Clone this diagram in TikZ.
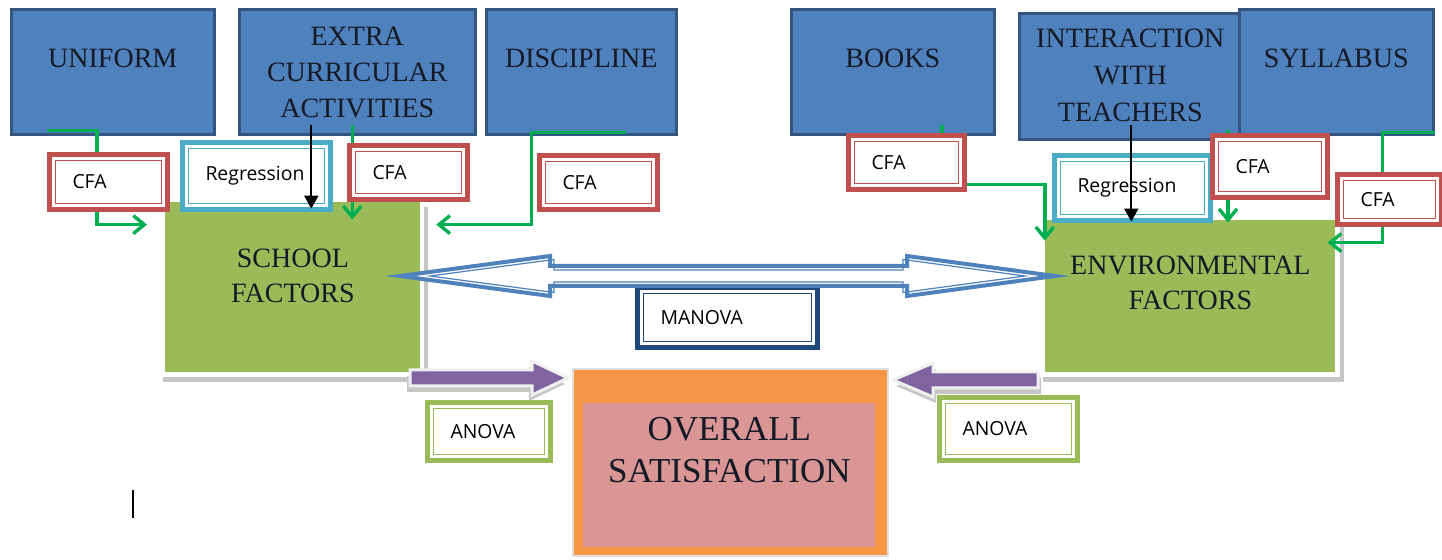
\documentclass[tikz,border=0pt]{standalone}
\usepackage{fontspec}
\setmainfont{Liberation Serif}
\newfontfamily\osans{Open Sans}
\usetikzlibrary{arrows.meta}
\definecolor{boxblue}{HTML}{4F81BD}
\definecolor{boxborder}{HTML}{34557F}
\definecolor{textdark}{HTML}{141A26}
\definecolor{cfared}{HTML}{C0504D}
\definecolor{regblue}{HTML}{4BACC6}
\definecolor{gfill}{HTML}{9BBB59}
\definecolor{glinec}{HTML}{00B050}
\definecolor{manblue}{HTML}{1F497D}
\definecolor{orangef}{HTML}{F79646}
\definecolor{pinkf}{HTML}{D99694}
\definecolor{purplef}{HTML}{8064A2}
\tikzset{
  bluebox/.style={draw=boxborder, fill=boxblue, line width=1.3pt, anchor=north west,
    inner xsep=2pt, inner ysep=0pt, align=center, text=textdark,
    font=\fontsize{14}{18}\selectfont},
  greenbox/.style={fill=gfill, anchor=north west, inner xsep=2pt, inner ysep=0pt,
    align=center, text=textdark, font=\fontsize{14}{17.5}\selectfont},
  lab/.style={draw=#1, fill=white, line width=2.5pt, anchor=north west,
    inner xsep=11.5pt, inner ysep=0pt, align=left,
    font={\osans\fontsize{9.7}{11}\selectfont},
    path picture={\draw[line width=0.5pt, draw=#1]
      ([shift={(2.8pt,-2.8pt)}]path picture bounding box.north west) rectangle
      ([shift={(-2.8pt,2.8pt)}]path picture bounding box.south east);}},
  gline/.style={draw=glinec, line width=1.7pt, line join=miter,
    -{Straight Barb[length=5.5pt,width=9pt,line width=1.7pt]}},
  bline/.style={draw=black, line width=1pt, -{Triangle[length=6.5pt,width=7pt]}},
  parrow/.style={fill=purplef, draw=gray!12, line width=1.5pt, line join=miter},
  pshadow/.style={fill=gray!45},
  darrowout/.style={fill=white, draw=boxblue, line width=2pt, line join=miter},
  darrowin/.style={draw=boxblue, line width=0.6pt, line join=miter},
}
\begin{document}
\begin{tikzpicture}[x=0.5pt,y=-0.5pt]
\useasboundingbox (0,0) rectangle (1442,560);

% green factor boxes with frame and shadow
\fill[gray!45] (163,207) rectangle (428,382);
\fill[white] (157,195) rectangle (424,377);
\node[greenbox, minimum width=127.5pt, text width=123.5pt, text height=32.5pt, text depth=52.5pt]
  (sch) at (165,202) {SCHOOL\\FACTORS};
\fill[gray!45] (1043,225) rectangle (1344,382);
\fill[white] (1038,213) rectangle (1340,377);
\node[greenbox, minimum width=145pt, text width=141pt, text height=27pt, text depth=49pt]
  (env) at (1045,220) {ENVIRONMENTAL\\FACTORS};

% overall satisfaction
\node[fill=orangef, draw=gray!25, line width=0.8pt, anchor=north west, inner sep=0pt,
  minimum width=157.5pt, minimum height=93.5pt] (ovr) at (572,368) {};
\node[fill=pinkf, anchor=north west, inner xsep=2pt, inner ysep=0pt, align=center,
  text width=142pt, text height=18.5pt, text depth=53.5pt, text=textdark,
  font=\fontsize{17.5}{21}\selectfont] (ovi) at (583,403) {OVERALL\\SATISFACTION};

% MANOVA box
\node[lab=manblue, minimum height=30pt, text width=67pt] (man) at (635,285) {MANOVA};

% blue boxes
\node[bluebox, minimum width=101.5pt, text height=29pt, text depth=33.5pt] (uni) at (10,8) {UNIFORM};
\node[bluebox, minimum width=118pt, text width=114pt, text height=18pt, text depth=44.5pt]
  (eca) at (238,8) {EXTRA\\CURRICULAR\\ACTIVITIES};
\node[bluebox, minimum width=95pt, text height=29pt, text depth=33.5pt] (dis) at (485,8) {DISCIPLINE};
\node[bluebox, minimum width=101.5pt, text height=29pt, text depth=33.5pt] (boo) at (790,8) {BOOKS};
\node[bluebox, minimum width=111pt, text width=107pt, text height=17pt, text depth=46pt,
  font=\fontsize{14}{18.5}\selectfont] (iwt) at (1018,12) {INTERACTION\\WITH\\TEACHERS};
\node[bluebox, minimum width=97pt, text height=29pt, text depth=33.5pt] (syl) at (1238,8) {SYLLABUS};

% green connectors
\draw[gline] ([shift={(37,-5)}]uni.south west) -- ++(50,0) -- ++(0,94) -- ++(50,0);
\draw[gline] ([shift={(-5,-11)}]eca.south) -- ++(0,95);
\draw[gline] ([shift={(45,-3)}]dis.south) -- ++(-95,0) -- ++(0,92) -- ++(-95,0);
\draw[gline] ([shift={(49,-11)}]boo.south) -- ++(0,60) -- ++(103,0) -- ++(0,56);
\draw[gline] ([shift={(-10,-6)}]syl.south west) -- ++(0,93);
\draw[gline] ([shift={(0,-3)}]syl.south east) -- ++(-52,0) -- ++(0,110) -- ++(-55,0);

% analysis labels
\node[lab=cfared, minimum height=27.5pt, text width=36pt] (c1) at (47,152) {CFA};
\node[lab=regblue, minimum height=33.5pt, text width=51pt] (r1) at (180,140) {Regression};
\node[lab=cfared, minimum height=27pt, text width=36pt] (c2) at (347,143) {CFA};
\node[lab=cfared, minimum height=27pt, text width=36pt] (c3) at (537,153) {CFA};
\node[lab=cfared, minimum height=27pt, text width=35pt] (c4) at (846,133) {CFA};
\node[lab=regblue, minimum height=32.5pt, text width=55pt] (r2) at (1052,153) {Regression};
\node[lab=cfared, minimum height=31pt, text width=34.5pt] (c5) at (1210,133) {CFA};
\node[lab=cfared, minimum height=25pt, text width=29pt] (c6) at (1335,172) {CFA};

% black regression arrows
\draw[bline] ([shift={(-46,-11)}]eca.south) -- ++(0,84);
\draw[bline] ([shift={(1,-16)}]iwt.south) -- ++(0,97);

% MANOVA double arrow
\coordinate (mL) at (400,276);
\coordinate (mR) at (1055,276);
\draw[darrowout] (mL) -- ++(150,-20) -- ++(0,10) -- ++(357,0) -- ++(0,-10) -- (mR)
  -- ++(-148,20) -- ++(0,-10) -- ++(-357,0) -- ++(0,10) -- cycle;
\draw[darrowin] ([shift={(30,0)}]mL) -- ++(124,-16.5) -- ++(0,10.5) -- ++(349,0) -- ++(0,-10.5)
  -- ([shift={(-30,0)}]mR) -- ++(-122,16.5) -- ++(0,-10.5) -- ++(-349,0) -- ++(0,10.5) -- cycle;

% ANOVA purple arrows
\coordinate (pl) at (568,378);
\coordinate (pr) at (893,380);
\fill[pshadow] ([shift={(-3,6)}]pl) -- ++(-36,-17) -- ++(0,9) -- ++(-122,0) -- ++(0,16)
  -- ++(122,0) -- ++(0,9) -- cycle;
\draw[parrow] (pl) -- ++(-36,-17) -- ++(0,9) -- ++(-122,0) -- ++(0,16)
  -- ++(122,0) -- ++(0,9) -- cycle;
\fill[pshadow] ([shift={(3,6)}]pr) -- ++(40,-17) -- ++(0,9) -- ++(105,0) -- ++(0,16)
  -- ++(-105,0) -- ++(0,9) -- cycle;
\draw[parrow] (pr) -- ++(40,-17) -- ++(0,9) -- ++(105,0) -- ++(0,16)
  -- ++(-105,0) -- ++(0,9) -- cycle;

\node[lab=gfill, minimum height=29pt, text width=38.5pt] (a1) at (425,400) {ANOVA};
\node[lab=gfill, minimum height=31.5pt, text width=46pt] (a2) at (937,395) {ANOVA};

% cursor mark
\draw[line width=1pt] (133,490) -- (133,518);
\end{tikzpicture}
\end{document}
